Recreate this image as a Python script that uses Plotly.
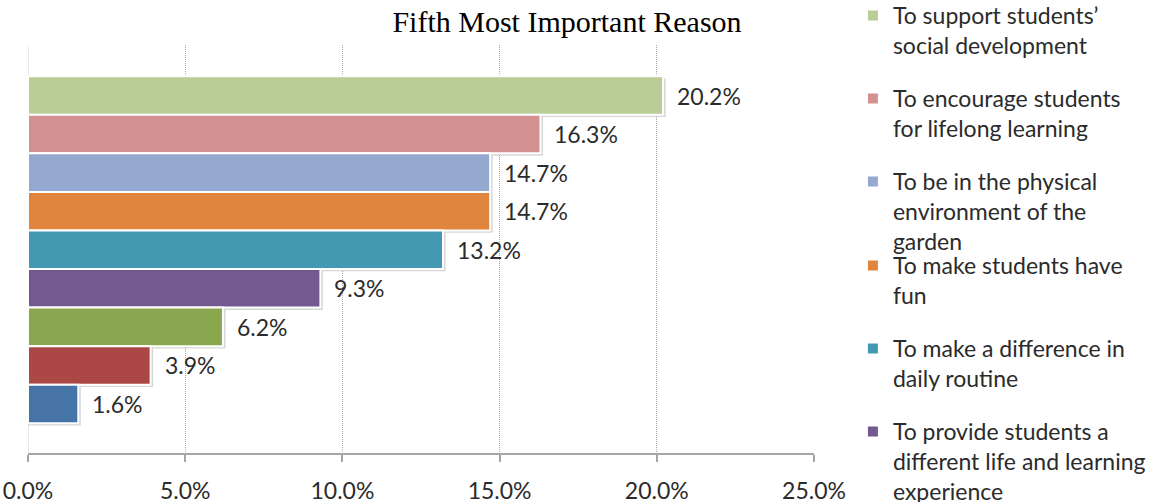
import plotly.graph_objects as go

# Share of respondents (%) choosing each reason as their fifth most important
values = [20.2, 16.3, 14.7, 14.7, 13.2, 9.3, 6.2, 3.9, 1.6]
colors = ["#B9CD96", "#D39191", "#95A9D0", "#DF853D", "#4399B1",
          "#725A91", "#8AA64E", "#AB4744", "#4673A8"]
reasons = [
    "To support students’<br>social development",
    "To encourage students<br>for lifelong learning",
    "To be in the physical<br>environment of the<br>garden",
    "To make students have<br>fun",
    "To make a difference in<br>daily routine",
    "To provide students a<br>different life and learning<br>experience",
]
x_ticks = [0, 5, 10, 15, 20, 25]

SANS = "Lato, 'Open Sans', sans-serif"
TEXT = "#2b2b2b"
GRID = "#a8a8a8"
FINE_DOT = "1px,1px"

fig = go.Figure()

# soft drop shadow behind each bar
fig.add_trace(go.Bar(
    x=[v + 0.08 for v in values], y=list(range(len(values))),
    orientation="h", width=1, offset=-0.5 + 0.06,
    marker=dict(color="rgba(0,0,0,0.16)", line=dict(width=0)),
    hoverinfo="skip", showlegend=False,
))

legend_tops = [-6, 77, 160, 244, 327, 410]   # pixel tops of the legend entries

for i, v in enumerate(values):
    shown = i < len(reasons)
    fig.add_trace(go.Bar(
        x=[v], y=[i], orientation="h", width=1,
        name=reasons[i] if shown else None,
        marker=dict(color=colors[i], line=dict(color="white", width=2)),
        showlegend=shown,
        legend=("legend" if i == 0 else f"legend{i + 1}") if shown else None,
        hovertemplate="%{x:.1f}%<extra></extra>",
    ))
    fig.add_annotation(
        x=v, y=i, xref="x", yref="y", text=f"{v:.1f}%",
        showarrow=False, xanchor="left", xshift=12,
        font=dict(family=SANS, size=23, color=TEXT),
    )

# dotted gridline along the zero value
fig.add_shape(type="line", xref="x", yref="paper", x0=0, x1=0, y0=0, y1=1,
              line=dict(color=GRID, width=1, dash=FINE_DOT), layer="below")

PLOT_TOP, PLOT_BOTTOM = 45, 453
legend_layout = {}
for k, top in enumerate(legend_tops):
    key = "legend" if k == 0 else f"legend{k + 1}"
    legend_layout[key] = dict(
        x=1.0495, xanchor="left",
        y=(PLOT_BOTTOM - top) / (PLOT_BOTTOM - PLOT_TOP), yanchor="top",
        valign="top", bgcolor="rgba(0,0,0,0)", borderwidth=0,
        font=dict(family=SANS, size=23, color=TEXT),
        itemwidth=30,
    )

fig.update_layout(
    width=1162, height=502,
    margin=dict(l=28, r=348, t=PLOT_TOP, b=502 - PLOT_BOTTOM, autoexpand=False),
    paper_bgcolor="white", plot_bgcolor="white",
    barmode="overlay",
    title=dict(
        text="Fifth Most Important Reason",
        x=567 / 1162, xanchor="center", xref="container",
        y=1 - 21 / 502, yanchor="middle",
        font=dict(family="'Liberation Serif', 'Times New Roman', serif", size=30, color="black"),
    ),
    xaxis=dict(
        range=[0, 25], tickvals=x_ticks, ticktext=[f"{t:.1f}%" for t in x_ticks],
        showgrid=True, gridcolor=GRID, griddash=FINE_DOT, gridwidth=1,
        zeroline=False, showline=True, linecolor="#a6a6a6", linewidth=2,
        ticks="outside", ticklen=7, tickcolor="#a6a6a6", tickwidth=2,
        ticklabelstandoff=9, automargin=False,
        tickfont=dict(family=SANS, size=23, color=TEXT),
        fixedrange=True,
    ),
    yaxis=dict(
        range=[len(values) - 1 + 1.27, -1.31],
        showgrid=False, zeroline=False, showline=False, automargin=False,
        showticklabels=False, ticks="", fixedrange=True,
    ),
    showlegend=True,
    **legend_layout,
)

fig.write_html("out.html")
